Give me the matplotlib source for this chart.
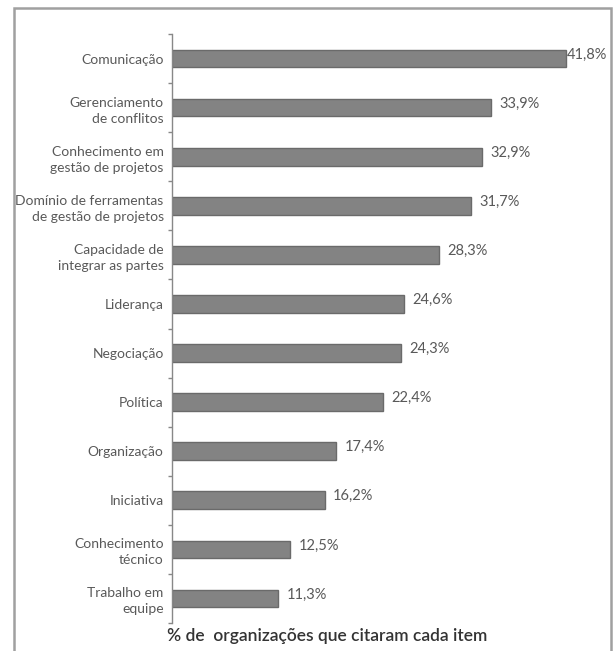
import numpy as np
import matplotlib.pyplot as plt
from matplotlib.patches import Rectangle

categorias = [
    "Comunicação",
    "Gerenciamento\nde conflitos",
    "Conhecimento em\ngestão de projetos",
    "Domínio de ferramentas\nde gestão de projetos",
    "Capacidade de\nintegrar as partes",
    "Liderança",
    "Negociação",
    "Política",
    "Organização",
    "Iniciativa",
    "Conhecimento\ntécnico",
    "Trabalho em\nequipe",
]
valores = [41.8, 33.9, 32.9, 31.7, 28.3, 24.6, 24.3, 22.4, 17.4, 16.2, 12.5, 11.3]

plt.rcParams['font.family'] = ['Lato', 'DejaVu Sans']

fig = plt.figure(figsize=(6.14, 6.51), dpi=100)

# moldura externa
fig.patches.append(Rectangle((14 / 614, -0.05), (611 - 14) / 614, 1 - 8 / 651 + 0.05,
                             transform=fig.transFigure, fill=False,
                             edgecolor='#a0a0a0', linewidth=1.8))

ax = fig.add_axes([172 / 614, 1 - 623 / 651, 424 / 614, (623 - 34) / 651])

y = np.arange(len(categorias))
ax.barh(y, valores, height=0.36, color='#838383', edgecolor='#6a6a6a', linewidth=1.0)

for yi, v in zip(y, valores):
    txt = f"{v:.1f}".replace('.', ',') + '%'
    off = 0.15 if v > 40 else 0.9
    ax.text(v + off, yi - 0.08, txt, ha='left', va='center', fontsize=10.5, color='#595959')

ax.set_ylim(len(categorias) - 0.5, -0.5)
ax.set_xlim(0, 45)

ax.set_yticks(np.arange(len(categorias) + 1) - 0.5)
ax.set_yticklabels([])
ax.set_yticks(y, minor=True)
ax.set_yticklabels(categorias, minor=True, fontsize=10, color='#595959',
                   linespacing=1.4)
ax.tick_params(axis='y', which='major', length=3, width=1, color='#888888')
ax.tick_params(axis='y', which='minor', length=0, pad=6)
ax.set_xticks([])

for s in ['top', 'right', 'bottom']:
    ax.spines[s].set_visible(False)
ax.spines['left'].set_color('#888888')
ax.spines['left'].set_linewidth(1.0)

fig.text(167 / 614, 1 - 636 / 651, "% de  organizações que citaram cada item",
         ha='left', va='center', fontsize=12.5, fontweight='semibold', color='#333333')

fig.savefig('out.png', dpi=100)
